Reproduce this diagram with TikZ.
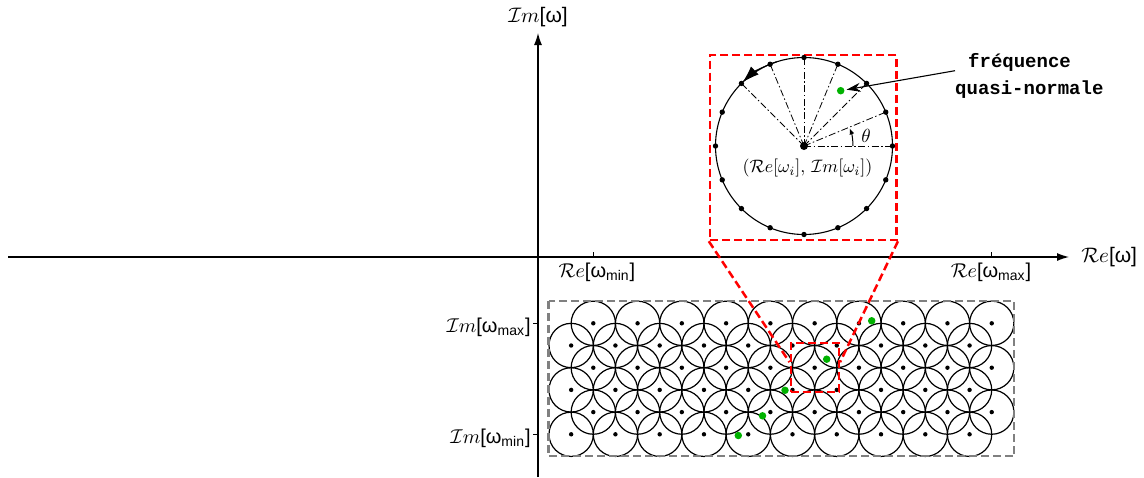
\documentclass[tikz,border=0pt]{standalone}
\usepackage{fontspec}
\newfontfamily\arialf{Liberation Sans}
\newfontfamily\courf{Liberation Mono}
\usetikzlibrary{arrows.meta,calc}
\newcommand{\ReS}{$\mathcal{R}e$}
\newcommand{\ImS}{$\mathcal{I}m$}
\begin{document}
\begin{tikzpicture}[x=1pt,y=-1pt,
  axis/.style={line width=1.2pt,-{Latex[length=12pt,width=8pt]}},
  tick/.style={line width=1pt},
  gridc/.style={line width=1.2pt},
  greydash/.style={draw=black!50,line width=2.3pt,dash pattern=on 8pt off 4pt},
  reddash/.style={draw=red,line width=2.5pt,dash pattern=on 8pt off 4pt},
  ray/.style={line width=0.8pt,dash pattern=on 7pt off 2.5pt on 1.5pt off 2.5pt},
  gdot/.style={circle,fill=green!70!black,inner sep=0pt,minimum size=7.5pt},
  axlab/.style={font=\arialf,scale=2.1,inner sep=0pt},
  ticklab/.style={font=\arialf,scale=2.0,inner sep=0pt},
  qnm/.style={font=\courf\bfseries\fontsize{19}{22}\selectfont,inner sep=0pt},
  sq/.style={reddash,inner sep=0pt}
]
\useasboundingbox (0,0) rectangle (1144,477);
% axes
\coordinate (xs) at (8,257);
\coordinate (xe) at (1069,257);
\coordinate (ys) at (538,477);
\coordinate (ye) at (538,33);
\draw[axis] (xs) -- (xe);
\draw[axis] (ys) -- (ye);
% ticks
\draw[tick] (593.3,257) -- (593.3,251.5);
\draw[tick] (991.7,257) -- (991.7,251.5);
\draw[tick] (538,323.3) -- (532.5,323.3);
\draw[tick] (538,434.3) -- (532.5,434.3);
% axis labels
\node[axlab] (imlab) at (538,17) {\ImS[ω]};
\node[axlab,anchor=west] (relab) at (1081,257) {\ReS[ω]};
\node[ticklab] (remin) at (597,272) {\ReS[ω\textsubscript{min}]};
\node[ticklab] (remax) at (991,272) {\ReS[ω\textsubscript{max}]};
\node[ticklab,anchor=east] (immax) at (531,327) {\ImS[ω\textsubscript{max}]};
\node[ticklab,anchor=east] (immin) at (531,438) {\ImS[ω\textsubscript{min}]};
% grid of circles
\foreach \j in {0,...,5} {
  \pgfmathsetmacro\yy{323.3+22.2*\j}
  \pgfmathsetmacro\xo{mod(\j,2)==0 ? 593.3 : 571.15}
  \foreach \i in {0,...,9} {
    \pgfmathsetmacro\xx{\xo+44.27*\i}
    \draw[gridc] (\xx,\yy) circle[radius=22.15pt];
    \fill (\xx,\yy) circle[radius=2.2pt];
  }
}
\draw[greydash] (548.5,300.8) rectangle (1014.3,456.3);
% green dots in grid
\node[gdot] (g1) at (871.7,320.8) {};
\node[gdot] (g2) at (826.7,359.2) {};
\node[gdot] (g3) at (785,390.3) {};
\node[gdot] (g4) at (762.5,415.8) {};
\node[gdot] (g5) at (738.3,435.5) {};
% zoom squares
\node[sq,minimum width=186.7pt,minimum height=185pt] (bigsq) at (803.35,147.5) {};
\node[sq,minimum width=48pt,minimum height=49pt] (smallsq) at (814.8,367.7) {};
\draw[reddash] (bigsq.south west) -- ($(smallsq.west)+(0,-5.5)$);
\draw[reddash] (bigsq.south east) -- ($(smallsq.east)+(0,-5.5)$);
% big circle
\coordinate (c) at (804,146);
\draw[line width=1.1pt] (c) circle[radius=88.5pt];
\foreach \a in {0,22.5,...,135} \draw[ray] (c) -- ($(c)+(\a:88.5pt)$);
\foreach \a in {0,22.5,...,337.5} \fill ($(c)+(\a:88.5pt)$) circle[radius=2.7pt];
\fill (c) circle[radius=4pt];
\draw[line width=1.1pt,-{Latex[length=17pt,width=11pt]}] ($(c)+(108:88.5pt)$) arc[start angle=108,end angle=134,radius=88.5pt];
\draw[line width=1pt,-{Latex[length=6pt,width=5pt]}] ($(c)+(0:49pt)$) arc[start angle=0,end angle=21,radius=49pt];
\node[scale=1.9,inner sep=0pt] (theta) at (866,136) {$\theta$};
\node[scale=1.8,inner sep=0pt] (cl) at (807.5,168) {$(\mathcal{R}e[\omega_i],\,\mathcal{I}m[\omega_i])$};
\node[gdot] (gq) at (840.7,90.7) {};
% label and arrow
\node[qnm,anchor=west] (fr) at (968,62) {fréquence};
\node[qnm,anchor=west] (qn) at (955,90) {quasi-normale};
\coordinate (arrs) at (955,70.7);
\draw[line width=1.1pt,-{Stealth[length=14pt,width=9pt]},shorten >=2pt] (arrs) -- (gq);
\end{tikzpicture}
\end{document}
